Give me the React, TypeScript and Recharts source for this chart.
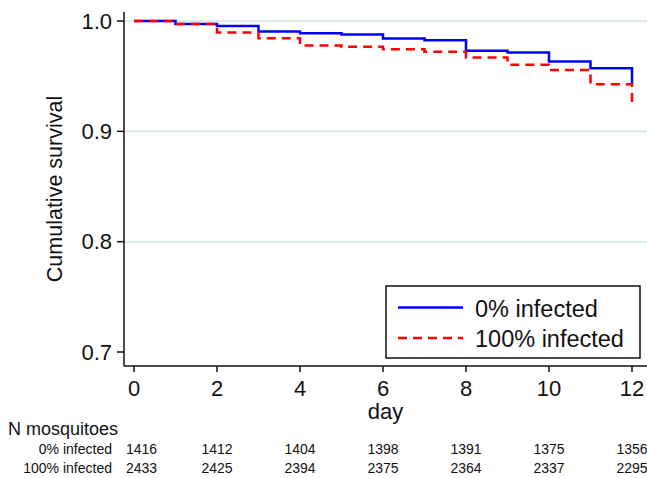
import { Line, LineChart, ReferenceLine, XAxis, YAxis } from 'recharts'

// Kaplan-Meier style survival
const days = [0, 1, 2, 3, 4, 5, 6, 7, 8, 9, 10, 11, 12]
const uninfected = [1.0, 0.9973, 0.9955, 0.9904, 0.9889, 0.9877, 0.9841, 0.9826, 0.973, 0.9715, 0.9634, 0.9571, 0.943]
const infected = [1.0, 0.9973, 0.9895, 0.9844, 0.9778, 0.9766, 0.9745, 0.9721, 0.967, 0.9604, 0.9556, 0.9427, 0.922]

const xTicks = [0, 2, 4, 6, 8, 10, 12]
const yTicks = [0.7, 0.8, 0.9, 1.0]
const gridLines = [0.8, 0.9, 1.0]

// numbers at risk, one per x tick
const nUninfected = [1416, 1412, 1404, 1398, 1391, 1375, 1356]
const nInfected = [2433, 2425, 2394, 2375, 2364, 2337, 2295]
const rowLabels = ['0% infected', '100% infected']

const data = days.map((day, i) => ({ day, uninfected: uninfected[i], infected: infected[i] }))

const FONT = '"Liberation Sans", Arial, Helvetica, sans-serif'

function DayTick(props: { x?: number; y?: number; payload?: { value: number }; index?: number }) {
  const x = props.x ?? 0
  const i = props.index ?? 0
  const first = i === 0
  return (
    <g fontFamily={FONT}>
      <text x={x} y={396} textAnchor="middle" fontSize={22} fill="#111">
        {props.payload?.value}
      </text>
      <text x={first ? x - 8 : x} y={454} textAnchor={first ? 'start' : 'middle'} fontSize={14} fill="#111">
        {nUninfected[i]}
      </text>
      <text x={first ? x - 8 : x} y={472.5} textAnchor={first ? 'start' : 'middle'} fontSize={14} fill="#111">
        {nInfected[i]}
      </text>
    </g>
  )
}

export default function App() {
  return (
    <div style={{ position: 'absolute', left: 0, top: 0, width: 647, height: 478, background: '#fff' }}>
      <LineChart width={647} height={478} data={data} margin={{ top: 12, right: 0, bottom: 0, left: 0 }}>
        {gridLines.map((v) => (
          <ReferenceLine key={v} y={v} stroke="#d3e3ea" strokeWidth={1.5} />
        ))}
        <XAxis
          dataKey="day"
          type="number"
          domain={[0, 12]}
          ticks={xTicks}
          padding={{ left: 10, right: 15 }}
          height={112}
          tickSize={6}
          stroke="#111"
          strokeWidth={1.5}
          tick={<DayTick />}
          label={{ value: 'day', position: 'insideTop', offset: 37, fontSize: 22, fill: '#111', fontFamily: FONT }}
        />
        <YAxis
          type="number"
          domain={[0.7, 1.0]}
          ticks={yTicks}
          padding={{ top: 9, bottom: 14 }}
          width={124}
          tickSize={7}
          tickMargin={5}
          stroke="#111"
          strokeWidth={1.5}
          tickFormatter={(v: number) => v.toFixed(1)}
          tick={{ fontSize: 22, fill: '#111', fontFamily: FONT }}
          label={{
            value: 'Cumulative survival',
            angle: -90,
            position: 'insideLeft',
            offset: 54,
            fontSize: 21.5,
            fill: '#111',
            fontFamily: FONT,
            style: { textAnchor: 'middle' },
          }}
        />
        <Line
          type="stepAfter"
          dataKey="uninfected"
          name="0% infected"
          stroke="#0000ff"
          strokeWidth={2.5}
          dot={false}
          isAnimationActive={false}
        />
        <Line
          type="stepAfter"
          dataKey="infected"
          name="100% infected"
          stroke="#ff0000"
          strokeWidth={2.5}
          strokeDasharray="9 6"
          dot={false}
          isAnimationActive={false}
        />
      </LineChart>
      <svg
        width={647}
        height={478}
        style={{ position: 'absolute', left: 0, top: 0, pointerEvents: 'none' }}
        fontFamily={FONT}
      >
        {/* legend */}
        <rect x={386} y={286} width={254} height={72} fill="#fff" stroke="#111" strokeWidth={1.5} />
        <line x1={398} x2={463} y1={307.5} y2={307.5} stroke="#0000ff" strokeWidth={2.5} />
        <text x={475} y={316.5} fontSize={23.5} fill="#111">0% infected</text>
        <line x1={398} x2={463} y1={338} y2={338} stroke="#ff0000" strokeWidth={2.5} strokeDasharray="9 6" />
        <text x={475} y={346.5} fontSize={23.5} fill="#111">100% infected</text>
        {/* number-at-risk table labels */}
        <text x={8} y={435} fontSize={18} fill="#111">N mosquitoes</text>
        <text x={112} y={454} fontSize={14} fill="#111" textAnchor="end">{rowLabels[0]}</text>
        <text x={112} y={472.5} fontSize={14} fill="#111" textAnchor="end">{rowLabels[1]}</text>
      </svg>
    </div>
  )
}
